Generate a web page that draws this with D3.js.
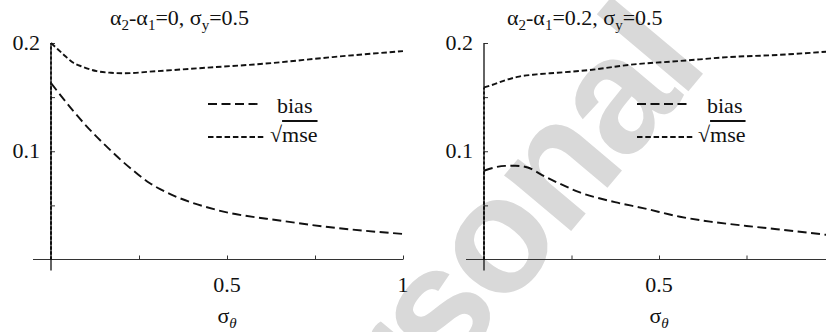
<!DOCTYPE html>
<html><head><meta charset="utf-8">
<script src="https://cdn.jsdelivr.net/npm/d3@7"></script>
</head>
<body style="margin:0">
<div id="wrap" style="position:relative;width:826px;height:332px;overflow:hidden">
<svg id="c" width="826" height="332" style="position:absolute;left:0;top:0"></svg>
</div>
<script>
// ---- data ----
const xTicks = [0.25, 0.5, 0.75, 1];
const xTickLabels = [0.5, 1];
const yTicks = [0.05, 0.1, 0.15, 0.2];
const yTickLabels = [0.1, 0.2];

// left panel: alpha2-alpha1 = 0
const sigmaBiasL = [0, 0, 0.0625, 0.1, 0.159, 0.2017, 0.244, 0.281, 0.31, 0.358, 0.472, 0.659, 0.80, 0.85, 1.0];
const biasL      = [0, 0.163, 0.1375, 0.1235, 0.104, 0.091, 0.0795, 0.0705, 0.065, 0.0577, 0.0457, 0.0356, 0.0295, 0.0278, 0.0236];
const sigmaMseL  = [0, 0, 0.02, 0.04, 0.06, 0.09, 0.13, 0.17, 0.21, 0.28, 0.42, 0.61, 0.8, 1.0];
const mseL       = [0, 0.2, 0.194, 0.188, 0.1825, 0.178, 0.174, 0.1725, 0.172, 0.1735, 0.1767, 0.181, 0.187, 0.1925];

// right panel: alpha2-alpha1 = 0.2
const sigmaBiasR = [0, 0, 0.03, 0.06, 0.09, 0.125, 0.166, 0.21, 0.274, 0.374, 0.454, 0.56, 0.646, 0.75, 0.837, 1.0];
const biasR      = [0, 0.082, 0.085, 0.0865, 0.0866, 0.085, 0.078, 0.071, 0.062, 0.053, 0.0475, 0.0395, 0.035, 0.031, 0.028, 0.022];
const sigmaMseR  = [0, 0, 0.03, 0.06, 0.1, 0.15, 0.21, 0.3, 0.42, 0.56, 0.7, 0.84, 1.0];
const mseR       = [0, 0.159, 0.162, 0.1655, 0.169, 0.171, 0.1725, 0.175, 0.18, 0.1834, 0.187, 0.189, 0.1925];

const W = 826;
const svg = d3.select("#c");
const wrap = d3.select("#wrap");

// HTML text label positioned by its baseline
function label(x, baseline, size, anchor){
  const shift = anchor === "middle" ? "translateX(-50%)" : anchor === "end" ? "translateX(-100%)" : "none";
  return wrap.append("div")
    .style("position","absolute").style("left", x + "px").style("top", (baseline - 0.8375*size) + "px")
    .style("font-family", '"Liberation Serif"').style("font-size", size + "px")
    .style("line-height", size + "px").style("white-space","nowrap").style("color","#111")
    .style("transform", shift);
}
function sub(parent, txt, italic){
  return parent.append("span").style("font-size","15px").style("position","relative").style("top","5px")
    .style("font-style", italic ? "italic" : "normal").text(txt);
}

// watermark
svg.append("text").attr("transform","translate(285,572) rotate(-50)")
  .style("font-family",'"Liberation Sans"')
  .style("font-weight","bold").style("letter-spacing","-5px")
  .style("font-size","165px").style("fill","#d9d9d9").text("Personal");

const panels = [
  {x0:51, x1:403, sb:sigmaBiasL, b:biasL, sm:sigmaMseL, m:mseL, title:"0", titleX:110, legX:208, legTX:277, legMX:270},
  {x0:484, x1:834, sb:sigmaBiasR, b:biasR, sm:sigmaMseR, m:mseR, title:"0.2", titleX:507, legX:637, legTX:707, legMX:698}
];

panels.forEach(p => {
  const x = d3.scaleLinear().domain([0,1]).range([p.x0, p.x1]);
  const y = d3.scaleLinear().domain([0,0.2]).range([259.5, 43]);
  const g = svg.append("g");

  // axes (ticks only; labels are HTML texts below)
  const ax = d3.axisBottom(x).tickValues(xTicks).tickSizeInner(-4).tickSizeOuter(0).tickFormat("");
  const gx = g.append("g").attr("transform",`translate(0,${y(0)})`).call(ax);
  gx.select(".domain").remove();
  gx.selectAll("line").attr("stroke","#333");
  g.append("line").attr("x1",x(0)-18).attr("x2",Math.min(x(1),W)).attr("y1",y(0)).attr("y2",y(0))
    .attr("stroke","#333").attr("stroke-width",1.2);

  const ay = d3.axisLeft(y).tickValues(yTicks).tickSizeInner(-4).tickSizeOuter(0).tickFormat("");
  const gy = g.append("g").attr("transform",`translate(${x(0)},0)`).call(ay);
  gy.select(".domain").remove();
  gy.selectAll("line").attr("stroke","#333");
  g.append("line").attr("x1",x(0)).attr("x2",x(0)).attr("y1",y(0.2)).attr("y2",y(0)+11)
    .attr("stroke","#222").attr("stroke-width",1.4);

  // tick labels
  xTickLabels.filter(d => x(d) < W - 8).forEach(d => label(x(d), y(0) + 33, 22, "middle").text(String(d)));
  yTickLabels.forEach(d => label(x(0) - 11, y(d) + 7, 22, "end").text(String(d)));

  // curves
  const line = d3.line().x(d=>x(d[0])).y(d=>y(d[1])).curve(d3.curveMonotoneX);
  const seg = d3.line().x(d=>x(d[0])).y(d=>y(d[1]));
  const bPts = p.sb.map((s,i)=>[s,p.b[i]]);
  const mPts = p.sm.map((s,i)=>[s,p.m[i]]);
  [[mPts,"5.5,2.8"],[bPts,"9,4.5"]].forEach(([pts,dash])=>{
    g.append("path").attr("d",seg(pts.slice(0,2))).attr("fill","none").attr("stroke","#111")
      .attr("stroke-width",1.8).attr("stroke-dasharray","3,2");
    g.append("path").attr("d",line(pts.slice(1))).attr("fill","none").attr("stroke","#111")
      .attr("stroke-width",1.9).attr("stroke-dasharray",dash);
  });

  // title
  const t = label(p.titleX, 25, 22, "start");
  t.append("span").text("α"); sub(t, "2");
  t.append("span").text("-α"); sub(t, "1");
  t.append("span").text("=" + p.title + ", σ"); sub(t, "y");
  t.append("span").text("=0.5");

  // x label
  const xl = label(x(0.5), 323, 22, "middle");
  xl.append("span").text("σ"); sub(xl, "θ", true);

  // legend
  g.append("line").attr("x1",p.legX).attr("x2",p.legX+54).attr("y1",104).attr("y2",104)
    .attr("stroke","#111").attr("stroke-width",1.9).attr("stroke-dasharray","9,4.5");
  label(p.legTX, 113, 22, "start").text("bias");
  g.append("line").attr("x1",p.legX).attr("x2",p.legX+58).attr("y1",137).attr("y2",137)
    .attr("stroke","#111").attr("stroke-width",1.8).attr("stroke-dasharray","5.5,2.8");
  const mt = label(p.legMX, 142, 22, "start");
  mt.append("span").text("√");
  mt.append("span").style("text-decoration","overline").text("mse");
});
</script></body></html>
